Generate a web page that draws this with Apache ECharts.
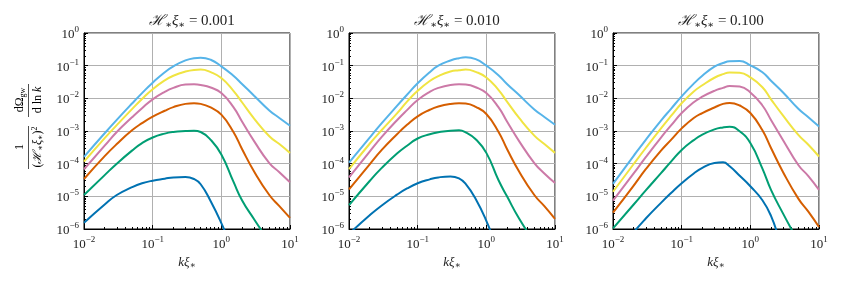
<!DOCTYPE html>
<html>
<head>
<meta charset="utf-8">
<title>dOmega_gw / dlnk</title>
<script src="https://cdn.jsdelivr.net/npm/echarts@6/dist/echarts.min.js"></script>
<style>
  html, body { margin: 0; padding: 0; background: #fff; }
  #main { width: 843px; height: 281px; }
</style>
</head>
<body>
<div id="main"></div>
<script>
// k xi_* sample points shared by every curve
var kGrid = [0.01, 0.02, 0.03, 0.05, 0.07, 0.1, 0.15, 0.2, 0.3, 0.4, 0.5, 0.7, 1, 1.5, 2, 3, 5, 7, 10];

// values are log10 of the spectrum
// panel 1 : H xi = 0.001
var p1Sky    = [-3.79, -3.07, -2.66, -2.16, -1.84, -1.52, -1.2, -1.02, -0.84, -0.77, -0.755, -0.82, -1.02, -1.31, -1.56, -1.92, -2.37, -2.6, -2.84];
var p1Yellow = [-3.94, -3.22, -2.82, -2.33, -2.02, -1.72, -1.45, -1.31, -1.18, -1.13, -1.12, -1.2, -1.38, -1.77, -2.12, -2.62, -3.16, -3.4, -3.67];
var p1Pink   = [-4.17, -3.45, -3.03, -2.58, -2.3, -2.03, -1.8, -1.68, -1.58, -1.57, -1.59, -1.67, -1.84, -2.27, -2.71, -3.31, -3.98, -4.26, -4.57];
var p1Orange = [-4.47, -3.77, -3.4, -2.98, -2.76, -2.56, -2.38, -2.27, -2.17, -2.15, -2.17, -2.28, -2.5, -3.03, -3.55, -4.24, -4.96, -5.3, -5.66];
var p1Green  = [-4.96, -4.35, -4.0, -3.6, -3.37, -3.2, -3.08, -3.03, -3.0, -2.99, -3.03, -3.27, -3.72, -4.55, -5.12, -5.7, -6.4, -6.8, -7.2];
var p1Blue   = [-5.81, -5.25, -4.96, -4.72, -4.6, -4.52, -4.46, -4.42, -4.41, -4.47, -4.63, -5.15, -5.82, -6.7, -7.5, -8, -8, -8, -8];
// panel 2 : H xi = 0.010
var p2Sky    = [-3.97, -3.2, -2.76, -2.23, -1.89, -1.54, -1.2, -1.0, -0.84, -0.77, -0.745, -0.8, -1.0, -1.29, -1.56, -1.9, -2.34, -2.57, -2.81];
var p2Yellow = [-4.17, -3.39, -2.97, -2.46, -2.1, -1.77, -1.47, -1.32, -1.18, -1.14, -1.12, -1.19, -1.36, -1.74, -2.1, -2.6, -3.14, -3.4, -3.67];
var p2Pink   = [-4.42, -3.63, -3.18, -2.67, -2.36, -2.05, -1.8, -1.68, -1.59, -1.57, -1.58, -1.66, -1.84, -2.27, -2.71, -3.31, -3.98, -4.3, -4.59];
var p2Orange = [-4.79, -4.02, -3.58, -3.1, -2.81, -2.55, -2.35, -2.25, -2.17, -2.15, -2.16, -2.26, -2.48, -3.02, -3.55, -4.24, -4.96, -5.3, -5.69];
var p2Green  = [-5.27, -4.53, -4.13, -3.69, -3.45, -3.23, -3.1, -3.04, -2.99, -2.98, -3.04, -3.25, -3.67, -4.5, -5.0, -5.68, -6.4, -6.8, -7.2];
var p2Blue   = [-6.15, -5.58, -5.28, -4.95, -4.76, -4.6, -4.48, -4.42, -4.39, -4.45, -4.62, -5.08, -5.75, -6.7, -7.5, -8, -8, -8, -8];
// panel 3 : H xi = 0.100
var p3Sky    = [-4.62, -3.76, -3.27, -2.68, -2.32, -1.94, -1.55, -1.31, -1.03, -0.92, -0.865, -0.86, -0.99, -1.2, -1.46, -1.82, -2.32, -2.58, -2.86];
var p3Yellow = [-4.86, -4.01, -3.52, -2.92, -2.54, -2.15, -1.79, -1.6, -1.37, -1.26, -1.21, -1.22, -1.36, -1.66, -2.03, -2.53, -3.12, -3.42, -3.78];
var p3Pink   = [-5.13, -4.3, -3.8, -3.2, -2.83, -2.45, -2.12, -1.95, -1.77, -1.68, -1.62, -1.64, -1.82, -2.22, -2.66, -3.28, -4.04, -4.38, -4.8];
var p3Orange = [-5.5, -4.67, -4.17, -3.6, -3.27, -2.92, -2.6, -2.45, -2.28, -2.17, -2.14, -2.22, -2.45, -2.98, -3.52, -4.26, -5.07, -5.47, -5.94];
var p3Green  = [-5.98, -5.25, -4.82, -4.29, -3.94, -3.58, -3.28, -3.11, -2.95, -2.89, -2.87, -3.01, -3.37, -4.15, -4.8, -5.53, -6.4, -7, -7.5];
var p3Blue   = [-6.9, -6.1, -5.68, -5.2, -4.9, -4.6, -4.3, -4.13, -3.98, -3.96, -4.08, -4.37, -4.69, -5.12, -5.6, -6.6, -7.5, -8, -8];

var panelTitles = ['0.001', '0.010', '0.100'];
var xTicks = [0.01, 0.1, 1, 10];
var xTickExp = ['−2', '−1', '0', '1'];
var yTicks = [1e-6, 1e-5, 1e-4, 1e-3, 1e-2, 1e-1, 1];
var yTickExp = ['−6', '−5', '−4', '−3', '−2', '−1', '0'];

var colors = ['#56B4E9', '#F0E442', '#CC79A7', '#D55E00', '#009E73', '#0072B2'];
var panels = [
  [p1Sky, p1Yellow, p1Pink, p1Orange, p1Green, p1Blue],
  [p2Sky, p2Yellow, p2Pink, p2Orange, p2Green, p2Blue],
  [p3Sky, p3Yellow, p3Pink, p3Orange, p3Green, p3Blue]
];

var serif = '"Liberation Serif", "DejaVu Serif", serif';
var lefts = [84, 349, 613];
var plotW = 206, plotH = 196, plotTop = 33;

function expLabel(ticks, exps) {
  return function (v) {
    for (var i = 0; i < ticks.length; i++) {
      if (Math.abs(Math.log10(v) - Math.log10(ticks[i])) < 1e-6) {
        return '{b|10}{s|' + exps[i] + '}';
      }
    }
    return '';
  };
}
var tickRich = {
  b: { fontFamily: serif, fontSize: 13, color: '#222', lineHeight: 16, verticalAlign: 'bottom' },
  s: { fontFamily: serif, fontSize: 9, color: '#222', lineHeight: 16, verticalAlign: 'top', padding: [0, 0, 6, 0] }
};

var grid = [], xAxis = [], yAxis = [], series = [], title = [];
lefts.forEach(function (left, i) {
  grid.push({ left: left, top: plotTop, width: plotW, height: plotH, show: true,
    borderColor: '#000', borderWidth: 1, backgroundColor: 'transparent' });
  xAxis.push({
    type: 'log', logBase: 10, gridIndex: i, min: 0.01, max: 10,
    axisLine: { show: true, onZero: false, lineStyle: { color: '#000', width: 1 } },
    axisTick: { show: true, inside: true, length: 4, lineStyle: { color: '#000' } },
    minorTick: { show: true, splitNumber: 9, length: 2, lineStyle: { color: '#000' } },
    splitLine: { show: true, lineStyle: { color: '#b0b0b0', width: 1 } },
    axisLabel: { formatter: expLabel(xTicks, xTickExp), rich: tickRich, margin: 6 },
    name: '{i|kξ}{s|∗}', nameLocation: 'middle', nameGap: 26,
    nameTextStyle: { rich: {
      i: { fontFamily: serif, fontStyle: 'italic', fontSize: 13, color: '#222' },
      s: { fontFamily: serif, fontSize: 9, color: '#222', verticalAlign: 'bottom', padding: [6, 0, 0, 0] }
    } }
  });
  yAxis.push({
    type: 'log', logBase: 10, gridIndex: i, min: 1e-6, max: 1,
    axisLine: { show: true, onZero: false, lineStyle: { color: '#000', width: 1 } },
    axisTick: { show: true, inside: true, length: 4, lineStyle: { color: '#000' } },
    minorTick: { show: true, splitNumber: 9, length: 2, lineStyle: { color: '#000' } },
    splitLine: { show: true, lineStyle: { color: '#b0b0b0', width: 1 } },
    axisLabel: { formatter: expLabel(yTicks, yTickExp), rich: tickRich, margin: 5 }
  });
  title.push({
    text: '{m|ℋ}{s|∗}{m|ξ}{s|∗}{n| = ' + panelTitles[i] + '}',
    left: left + plotW / 2, top: 8, textAlign: 'center',
    textStyle: { fontWeight: 'normal', rich: {
      m: { fontFamily: serif, fontStyle: 'italic', fontWeight: 'normal', fontSize: 15, color: '#222' },
      s: { fontFamily: serif, fontWeight: 'normal', fontSize: 10, color: '#222', verticalAlign: 'bottom', padding: [7, 0, 0, 0] },
      n: { fontFamily: serif, fontWeight: 'normal', fontSize: 15, color: '#222' }
    } }
  });
  panels[i].forEach(function (vals, c) {
    series.push({
      type: 'line', xAxisIndex: i, yAxisIndex: i,
      data: kGrid.map(function (k, j) { return [k, Math.pow(10, vals[j])]; }),
      showSymbol: false, smooth: 0.5, clip: true,
      lineStyle: { color: colors[c], width: 2 }, itemStyle: { color: colors[c] }
    });
  });
});

// y axis name: 1/(H xi)^2 * dOmega_gw / d ln k, two stacked fractions turned upright
var labelRich = {
  a: { fontFamily: serif, fontSize: 12, color: '#222' },
  i: { fontFamily: serif, fontSize: 12, fontStyle: 'italic', color: '#222' },
  s: { fontFamily: serif, fontSize: 8, color: '#222', verticalAlign: 'bottom', padding: [6, 0, 0, 0] },
  p: { fontFamily: serif, fontSize: 8, color: '#222', verticalAlign: 'top', padding: [0, 0, 6, 0] }
};
function upText(x, y, text) {
  return { type: 'text', x: x, y: y, rotation: Math.PI / 2,
    style: { text: text, rich: labelRich, align: 'center', verticalAlign: 'middle' } };
}
var yName = [
  upText(20, 147, '{a|1}'),
  { type: 'line', shape: { x1: 28.5, y1: 126, x2: 28.5, y2: 169 }, style: { stroke: '#222', lineWidth: 0.8 } },
  upText(38, 147, '{a|(}{i|ℋ}{s|∗}{i|ξ}{s|∗}{a|)}{p|2}'),
  upText(20, 100, '{a|dΩ}{s|gw}'),
  { type: 'line', shape: { x1: 28.5, y1: 84, x2: 28.5, y2: 117 }, style: { stroke: '#222', lineWidth: 0.8 } },
  upText(38, 100, '{a|d ln }{i|k}')
];

var chart = echarts.init(document.getElementById('main'));
chart.setOption({
  animation: false,
  backgroundColor: '#fff',
  title: title,
  grid: grid,
  xAxis: xAxis,
  yAxis: yAxis,
  series: series,
  graphic: yName
});
</script>
</body>
</html>
